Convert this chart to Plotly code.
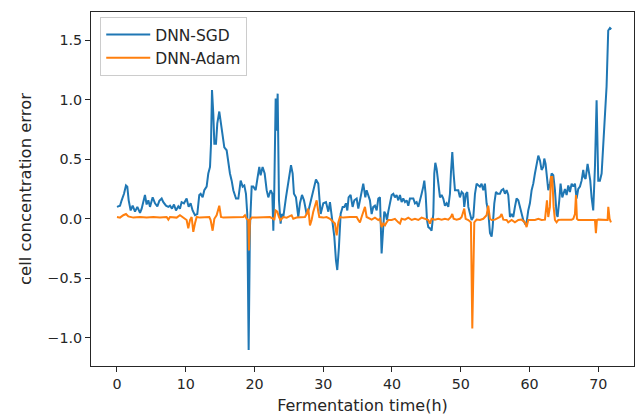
import plotly.graph_objects as go

# Fermentation time (h) and prediction error of the SGD-trained network
t_sgd = [0.0, 0.44, 0.68, 1.02, 1.31, 1.50, 1.70, 1.99, 2.28, 2.62, 2.96, 3.35, 3.59, 3.83, 4.07,
         4.31, 4.56, 4.80, 5.19, 5.53, 5.87, 6.16, 6.50, 6.74, 7.13, 7.47, 7.71, 8.00, 8.29, 8.58,
         8.92, 9.16, 9.40, 9.74, 10.13, 10.42, 10.71, 11.00, 11.34, 11.68, 11.97, 12.17, 12.46, 12.70,
         13.04, 13.28, 13.53, 13.67, 13.82, 14.01, 14.16, 14.40, 14.59, 14.88, 15.13, 15.37, 15.61,
         15.95, 16.19, 16.43, 16.68, 16.92, 17.31, 17.65, 17.99, 18.28, 18.52, 18.76, 18.95, 19.15,
         19.34, 19.59, 19.83, 20.17, 20.46, 20.70, 20.89, 21.18, 21.48, 21.77, 22.01, 22.35, 22.59,
         22.74, 22.88, 23.08, 23.22, 23.37, 23.56, 23.80, 23.95, 24.19, 24.58, 24.82, 25.06, 25.31,
         25.55, 25.74, 26.03, 26.37, 26.61, 26.91, 27.20, 27.58, 27.92, 28.21, 28.55, 28.94, 29.28,
         29.43, 29.62, 30.01, 30.40, 30.74, 30.98, 31.37, 31.61, 31.85, 32.04, 32.28, 32.53, 32.82,
         33.06, 33.30, 33.50, 33.69, 33.98, 34.27, 34.52, 34.86, 35.10, 35.34, 35.58, 35.82, 36.12,
         36.31, 36.79, 37.04, 37.28, 37.52, 37.77, 38.01, 38.25, 38.40, 38.49, 38.73, 38.88, 39.07,
         39.27, 39.46, 39.70, 39.95, 40.19, 40.43, 40.67, 40.92, 41.16, 41.40, 41.64, 41.89, 42.13,
         42.37, 42.61, 42.86, 43.10, 43.34, 43.58, 43.83, 44.07, 44.31, 44.55, 44.70, 44.89, 45.09,
         45.28, 45.52, 45.76, 46.01, 46.15, 46.30, 46.49, 46.73, 46.98, 47.22, 47.46, 47.70, 47.95,
         48.19, 48.43, 48.57, 48.77, 48.96, 49.16, 49.40, 49.64, 49.88, 50.13, 50.37, 50.51, 50.76,
         50.95, 51.10, 51.34, 51.58, 51.83, 52.07, 52.31, 52.55, 52.79, 53.03, 53.28, 53.52, 53.76,
         54.00, 54.25, 54.49, 54.64, 54.88, 55.12, 55.36, 55.70, 55.94, 56.19, 56.43, 56.67, 56.91,
         57.16, 57.40, 57.64, 57.88, 58.12, 58.37, 58.61, 58.85, 59.09, 59.34, 59.58, 59.82, 60.06,
         60.31, 60.55, 60.79, 61.03, 61.28, 61.52, 61.76, 62.00, 62.15, 62.34, 62.54, 62.73, 62.97,
         63.22, 63.46, 63.70, 63.94, 64.09, 64.33, 64.52, 64.77, 64.96, 65.16, 65.40, 65.64, 65.88,
         66.13, 66.37, 66.61, 66.85, 67.09, 67.34, 67.58, 67.82, 67.97, 68.16, 68.45, 68.65, 68.84,
         69.03, 69.27, 69.52, 69.76, 70.00, 70.24, 70.49, 70.73, 70.97, 71.21, 71.45, 71.70, 71.90]
err_sgd = [0.10, 0.11, 0.155, 0.21, 0.28, 0.27, 0.155, 0.07, 0.11, 0.06, 0.10, 0.05, 0.085, 0.155, 0.20,
           0.12, 0.155, 0.10, 0.18, 0.13, 0.105, 0.15, 0.17, 0.14, 0.11, 0.10, 0.11, 0.085, 0.12, 0.07,
           0.105, 0.085, 0.14, 0.13, 0.17, 0.10, 0.13, 0.07, 0.03, 0.04, 0.20, 0.21, 0.18, 0.24,
           0.27, 0.38, 0.435, 0.62, 1.08, 0.88, 0.63, 0.63, 0.80, 0.90, 0.81, 0.71, 0.60,
           0.575, 0.46, 0.38, 0.32, 0.24, 0.17, 0.17, 0.32, 0.27, 0.28, 0.21, 0.04, -1.10,
           -0.07, 0.27, 0.27, 0.24, 0.35, 0.435, 0.365, 0.435, 0.38, 0.24, 0.18, 0.24, 0.21,
           -0.10, 0.24, 1.01, 0.74, 1.05, 0.155, -0.04, 0.04, 0.015, 0.18, 0.27, 0.365, 0.45,
           0.38, 0.21, 0.18, 0.015, 0.13, 0.20, 0.155, 0.04, 0.085, 0.155, 0.24, 0.33, 0.295,
           0.20, 0.04, 0.13, 0.14, 0.06, 0.14, -0.04, -0.15, -0.35, -0.43, -0.24, 0.04, 0.10,
           0.10, 0.13, 0.07, 0.18, 0.20, 0.10, 0.155, 0.17, 0.085, 0.155, 0.24, 0.295, 0.18,
           0.24, 0.155, 0.04, 0.10, 0.11, 0.07, 0.17, 0.18, -0.04, -0.29, -0.07, 0.06, 0.04,
           -0.01, 0.06, 0.13, 0.20, 0.21, 0.18, 0.20, 0.155, 0.20, 0.14, 0.17, 0.14, 0.155,
           0.11, 0.17, 0.17, 0.17, 0.13, 0.14, 0.10, 0.17, 0.21, 0.27, 0.32, 0.21, -0.01,
           -0.07, -0.08, -0.10, 0.04, 0.38, 0.47, 0.42, 0.32, 0.18, 0.20, 0.17, 0.11, 0.13,
           0.10, 0.21, 0.38, 0.56, 0.38, 0.24, 0.24, 0.24, 0.18, 0.225, 0.21, 0.10, 0.21,
           0.225, 0.10, 0.04, -0.01, 0.015, 0.21, 0.295, 0.28, 0.27, 0.295, 0.24, 0.295, 0.13,
           0.06, -0.12, -0.15, -0.07, 0.13, 0.225, 0.21, 0.21, 0.24, 0.25, 0.21, 0.24, 0.20,
           0.015, 0.04, 0.015, 0.10, 0.17, 0.155, 0.10, 0.04, -0.01, -0.04, -0.03, 0.07, 0.13,
           0.24, 0.295, 0.38, 0.46, 0.53, 0.49, 0.41, 0.435, 0.505, 0.46, 0.32, 0.24, 0.295,
           0.38, 0.365, 0.24, 0.04, 0.015, 0.155, 0.295, 0.18, 0.21, 0.25, 0.20, 0.28, 0.225,
           0.295, 0.27, 0.295, 0.17, 0.25, 0.27, 0.32, 0.41, 0.35, 0.335, 0.46, 0.39, 0.32,
           0.18, 0.07, 0.435, 0.995, 0.32, 0.32, 0.38, 0.60, 0.88, 1.11, 1.58, 1.60, 1.59]

# Fermentation time (h) and prediction error of the Adam-trained network
t_adam = [0.0, 0.44, 0.92, 1.31, 1.65, 2.38, 3.35, 4.31, 5.28, 6.25, 7.22, 7.47, 7.71, 8.68, 9.16,
          9.55, 9.89, 10.13, 10.37, 10.62, 10.86, 11.10, 11.34, 11.59, 12.07, 12.80, 13.43, 13.62,
          13.91, 14.16, 14.49, 14.88, 15.13, 15.46, 16.43, 17.40, 18.37, 18.62, 18.86, 19.10, 19.20,
          19.34, 19.59, 20.31, 21.28, 22.25, 22.74, 22.88, 23.08, 23.32, 23.56, 23.80, 24.19, 24.68,
          25.40, 25.64, 26.13, 26.86, 27.34, 27.58, 27.83, 28.07, 28.31, 28.55, 28.80, 29.04, 29.28,
          29.43, 30.01, 30.49, 30.98, 31.46, 31.70, 31.95, 32.19, 32.43, 32.92, 33.89, 34.86, 35.10,
          35.34, 35.58, 35.82, 36.07, 36.31, 36.79, 37.04, 37.52, 38.01, 38.25, 38.49, 38.73, 38.98,
          39.22, 39.46, 39.95, 40.43, 40.92, 41.16, 41.40, 41.89, 42.37, 42.86, 43.34, 43.83, 44.31,
          44.80, 45.28, 45.52, 45.76, 46.25, 46.73, 47.22, 47.70, 48.19, 48.57, 48.77, 48.96, 49.40,
          49.88, 50.13, 50.37, 50.51, 50.71, 51.10, 51.48, 51.68, 51.97, 52.31, 52.79, 53.28, 53.76,
          54.00, 54.25, 54.49, 54.97, 55.46, 55.70, 55.94, 56.19, 56.67, 56.91, 57.40, 57.88, 58.37,
          58.85, 59.34, 59.58, 59.82, 60.31, 60.79, 61.28, 61.76, 62.25, 62.39, 62.54, 62.73, 62.97,
          63.12, 63.31, 63.51, 63.70, 63.94, 64.19, 64.67, 65.16, 65.64, 66.13, 66.37, 66.61, 66.76,
          66.90, 67.09, 67.58, 68.06, 68.55, 69.03, 69.52, 69.66, 69.81, 70.00, 70.49, 70.97, 71.36,
          71.46, 71.65, 71.85]
err_adam = [0.015, 0.01, 0.03, 0.04, 0.02, 0.01, 0.015, 0.01, 0.015, 0.01, 0.015, -0.007, 0.015, 0.01, 0.03,
            0.015, 0.0, -0.01, -0.08, -0.01, 0.015, -0.11, -0.04, 0.015, 0.01, 0.01, 0.015, -0.01,
            -0.10, 0.0, 0.03, 0.11, 0.015, 0.01, 0.01, 0.01, 0.015, 0.03, 0.0, -0.01, -0.265,
            -0.01, 0.01, 0.01, 0.01, 0.015, 0.0, -0.01, 0.07, 0.06, 0.015, -0.01, 0.015, 0.01,
            0.03, 0.0, 0.01, 0.01, 0.015, 0.04, 0.085, -0.055, -0.01, 0.06, 0.11, 0.155, 0.06,
            0.015, 0.01, 0.015, 0.0, -0.03, -0.04, -0.14, -0.03, 0.015, 0.01, 0.015, 0.015, -0.01,
            -0.03, 0.015, 0.06, 0.10, 0.015, 0.0, -0.007, 0.01, -0.01, 0.0, -0.07, -0.04, -0.055,
            -0.03, -0.01, -0.01, 0.0, -0.03, -0.04, 0.0, -0.007, 0.01, -0.01, 0.0, -0.01, 0.01,
            0.0, -0.01, -0.04, 0.0, -0.007, 0.0, -0.007, 0.0, -0.007, 0.015, 0.04, 0.0, -0.007,
            0.0, 0.015, 0.06, 0.085, 0.0, -0.01, -0.03, -0.92, -0.03, -0.007, -0.01, 0.0, 0.03,
            0.11, 0.0, -0.01, -0.007, 0.01, 0.015, 0.04, -0.007, -0.01, -0.03, -0.01, -0.03, -0.01,
            -0.007, -0.03, -0.07, -0.01, -0.007, -0.01, 0.0, -0.01, -0.007, 0.06, 0.155, 0.015, 0.10,
            0.35, 0.35, 0.10, -0.01, -0.03, -0.01, -0.007, -0.007, -0.01, -0.007, 0.0, 0.04, 0.20,
            0.0, -0.01, -0.01, -0.01, -0.007, -0.01, -0.01, -0.12, -0.01, -0.007, -0.01, -0.007, -0.01,
            0.10, 0.0, -0.03]

x_ticks = [0, 10, 20, 30, 40, 50, 60, 70]
y_ticks = [-1.0, -0.5, 0.0, 0.5, 1.0, 1.5]

FONT = "DejaVu Sans"
INK = "#262626"

fig = go.Figure()
fig.add_trace(go.Scatter(x=t_sgd, y=err_sgd, mode="lines", name="DNN-SGD",
                         line=dict(color="#1f77b4", width=2)))
fig.add_trace(go.Scatter(x=t_adam, y=err_adam, mode="lines", name="DNN-Adam",
                         line=dict(color="#ff7f0e", width=2)))

axis_common = dict(showline=True, linecolor=INK, linewidth=1, mirror=True,
                   showgrid=False, zeroline=False, ticks="outside", ticklen=5,
                   tickwidth=1, tickcolor=INK,
                   tickfont=dict(family=FONT, size=14.3, color=INK))

fig.update_layout(
    width=635, height=419,
    margin=dict(l=91, r=1, t=12, b=53),
    paper_bgcolor="white", plot_bgcolor="white",
    font=dict(family=FONT, size=14, color=INK),
    xaxis=dict(range=[-3.78, 75.2], tickvals=x_ticks,
               title=dict(text="Fermentation time(h)", standoff=8,
                          font=dict(family=FONT, size=16, color=INK)),
               **axis_common),
    yaxis=dict(range=[-1.235, 1.735], tickvals=y_ticks, tickformat=".1f",
               title=dict(text="cell concentration error", standoff=11,
                          font=dict(family=FONT, size=16.4, color=INK)),
               **axis_common),
    legend=dict(x=0.017, y=0.986, xanchor="left", yanchor="top",
                bgcolor="white", bordercolor="#cccccc", borderwidth=1,
                itemwidth=44, tracegroupgap=0,
                font=dict(family=FONT, size=15.5, color=INK)),
    showlegend=True,
)

fig.write_html("out.html")
